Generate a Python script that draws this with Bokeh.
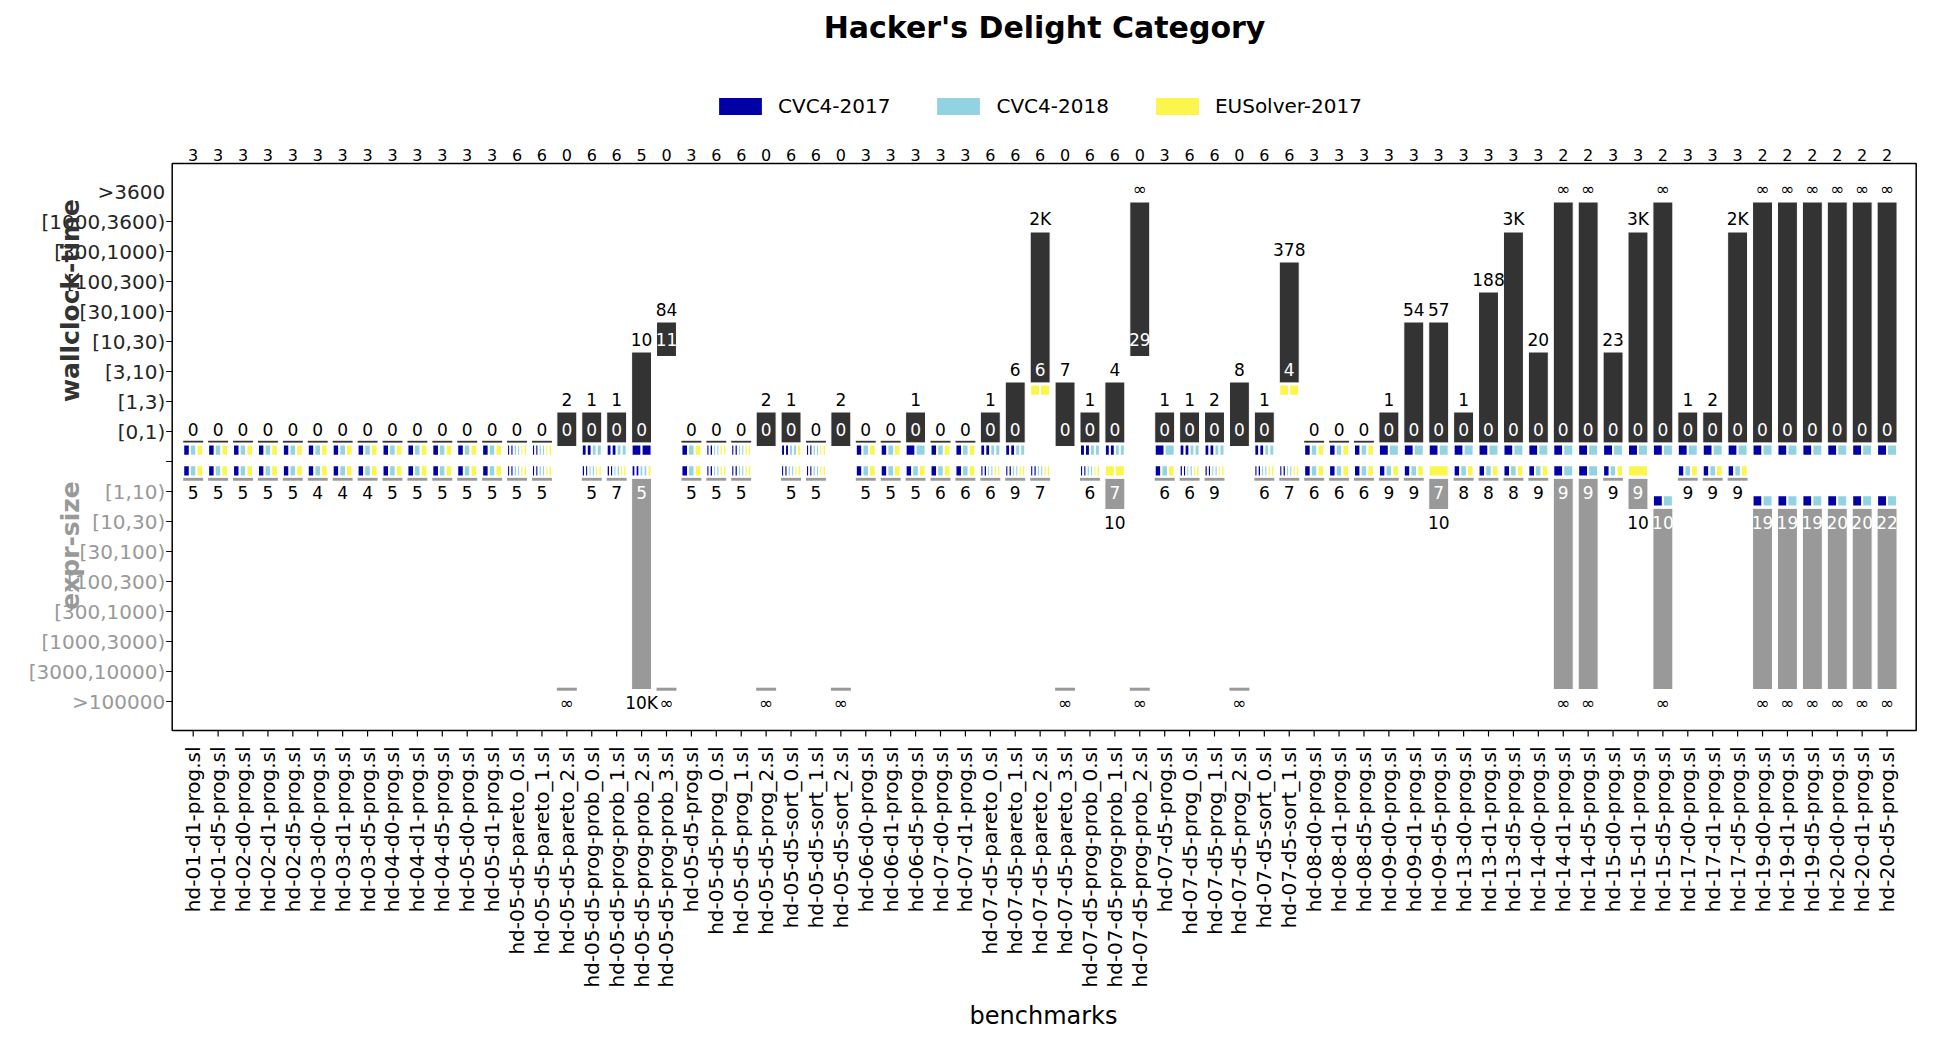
import math
from bokeh.plotting import figure
from bokeh.models import Range1d, ColumnDataSource, Legend, LegendItem
from bokeh.core.properties import value
from bokeh.embed import file_html
from bokeh.resources import INLINE

INF = float("inf")

benchmarks = [
    "hd-01-d1-prog.sl", "hd-01-d5-prog.sl", "hd-02-d0-prog.sl", "hd-02-d1-prog.sl",
    "hd-02-d5-prog.sl", "hd-03-d0-prog.sl", "hd-03-d1-prog.sl", "hd-03-d5-prog.sl",
    "hd-04-d0-prog.sl", "hd-04-d1-prog.sl", "hd-04-d5-prog.sl", "hd-05-d0-prog.sl",
    "hd-05-d1-prog.sl", "hd-05-d5-pareto_0.sl", "hd-05-d5-pareto_1.sl", "hd-05-d5-pareto_2.sl",
    "hd-05-d5-prog-prob_0.sl", "hd-05-d5-prog-prob_1.sl", "hd-05-d5-prog-prob_2.sl",
    "hd-05-d5-prog-prob_3.sl", "hd-05-d5-prog.sl", "hd-05-d5-prog_0.sl", "hd-05-d5-prog_1.sl",
    "hd-05-d5-prog_2.sl", "hd-05-d5-sort_0.sl", "hd-05-d5-sort_1.sl", "hd-05-d5-sort_2.sl",
    "hd-06-d0-prog.sl", "hd-06-d1-prog.sl", "hd-06-d5-prog.sl", "hd-07-d0-prog.sl",
    "hd-07-d1-prog.sl", "hd-07-d5-pareto_0.sl", "hd-07-d5-pareto_1.sl", "hd-07-d5-pareto_2.sl",
    "hd-07-d5-pareto_3.sl", "hd-07-d5-prog-prob_0.sl", "hd-07-d5-prog-prob_1.sl",
    "hd-07-d5-prog-prob_2.sl", "hd-07-d5-prog.sl", "hd-07-d5-prog_0.sl", "hd-07-d5-prog_1.sl",
    "hd-07-d5-prog_2.sl", "hd-07-d5-sort_0.sl", "hd-07-d5-sort_1.sl", "hd-08-d0-prog.sl",
    "hd-08-d1-prog.sl", "hd-08-d5-prog.sl", "hd-09-d0-prog.sl", "hd-09-d1-prog.sl",
    "hd-09-d5-prog.sl", "hd-13-d0-prog.sl", "hd-13-d1-prog.sl", "hd-13-d5-prog.sl",
    "hd-14-d0-prog.sl", "hd-14-d1-prog.sl", "hd-14-d5-prog.sl", "hd-15-d0-prog.sl",
    "hd-15-d1-prog.sl", "hd-15-d5-prog.sl", "hd-17-d0-prog.sl", "hd-17-d1-prog.sl",
    "hd-17-d5-prog.sl", "hd-19-d0-prog.sl", "hd-19-d1-prog.sl", "hd-19-d5-prog.sl",
    "hd-20-d0-prog.sl", "hd-20-d1-prog.sl", "hd-20-d5-prog.sl",
]

entries = [3] * 13 + [6, 6, 0, 6, 6, 5, 0, 3, 6, 6, 0, 6, 6, 0, 3, 3, 3, 3, 3, 6, 6, 6, 0,
                      6, 6, 0, 3, 6, 6, 0, 6, 6] + [3] * 10 + \
          [2, 2, 3, 3, 2, 3, 3, 3, 2, 2, 2, 2, 2, 2]

time_min = [0] * 19 + [11] + [0] * 14 + [6] + [0] * 3 + [29] + [0] * 5 + [4] + [0] * 24

time_max = [0] * 15 + [2, 1, 1, 10, 84, 0, 0, 0, 2, 1, 0, 2, 0, 0, 1, 0, 0, 1, 6, 2000, 7,
                       1, 4, INF, 1, 1, 2, 8, 1, 378, 0, 0, 0, 1, 54, 57, 1, 188, 3000, 20,
                       INF, INF, 23, 3000, INF, 1, 2, 2000, INF, INF, INF, INF, INF, INF]

size_min = [5, 5, 5, 5, 5, 4, 4, 4, 5, 5, 5, 5, 5, 5, 5, INF, 5, 7, 5, INF, 5, 5, 5, INF,
            5, 5, INF, 5, 5, 5, 6, 6, 6, 9, 7, INF, 6, 7, INF, 6, 6, 9, INF, 6, 7, 6, 6, 6,
            9, 9, 7, 8, 8, 8, 9, 9, 9, 9, 9, 10, 9, 9, 9, 19, 19, 19, 20, 20, 22]

size_max = [5, 5, 5, 5, 5, 4, 4, 4, 5, 5, 5, 5, 5, 5, 5, INF, 5, 7, 10000, INF, 5, 5, 5, INF,
            5, 5, INF, 5, 5, 5, 6, 6, 6, 9, 7, INF, 6, 10, INF, 6, 6, 9, INF, 6, 7, 6, 6, 6,
            9, 9, 10, 8, 8, 8, 9, INF, INF, 9, 10, INF, 9, 9, 9, INF, INF, INF, INF, INF, INF]

# solvers reaching the best wallclock-time / expr-size (b=CVC4-2017, c=CVC4-2018, y=EUSolver-2017)
time_best = ["bcy"] * 13 + ["bbccyy", "bbccyy", "", "bbcc", "bbcc", "bb", "", "bcy",
                            "bbccyy", "bbccyy", "", "bbccy", "bbccyy", "", "bcy", "bcy", "bc",
                            "bcy", "bcy", "bbcc", "bbcc", "yy", "", "bbcc", "bbcc", "", "bc",
                            "bbcc", "bbcc", "", "bbcc", "yy", "bcy", "bcy", "bcy"] + ["bc"] * 21

size_best = ["bcy"] * 13 + ["bbccyy", "bbccyy", "", "bbccyy", "bbccyy", "bbccy", "", "bcy",
                            "bbccyy", "bbccyy", "", "bbccyy", "bbccyy", "", "bcy", "bcy", "bcy",
                            "bcy", "bcy", "bbccyy", "bbccyy", "bbccyy", "", "bbccyy", "yy", "",
                            "bcy", "bbccyy", "bbccyy", "", "bbccyy", "bbccyy", "bcy", "bcy",
                            "bcy", "bcy", "bcy", "y", "bcy", "bcy", "bcy", "bcy", "bc", "bc",
                            "bcy", "y", "bc", "bcy", "bcy", "bcy", "bc", "bc", "bc", "bc", "bc",
                            "bc"]

solvers = ["CVC4-2017", "CVC4-2018", "EUSolver-2017"]
solver_colors = {"b": "#0000a4", "c": "#92d3e2", "y": "#fcf54c"}
solver_keys = ["b", "c", "y"]

time_labels = ["[0,1)", "[1,3)", "[3,10)", "[10,30)", "[30,100)", "[100,300)",
               "[300,1000)", "[1000,3600)", ">3600"]
time_edges = [1, 3, 10, 30, 100, 300, 1000, 3600]
size_labels = ["[1,10)", "[10,30)", "[30,100)", "[100,300)", "[300,1000)",
               "[1000,3000)", "[3000,10000)", ">100000"]
size_edges = [10, 30, 100, 300, 1000, 3000, 10000]

FONT = value("DejaVu Sans")
DARK = "#333333"
GRAY = "#999999"
TICKCOL = "#262626"

W, H = 1938, 1044
# pixel scale of one benchmark / one level, and pixel position of benchmark 0 / level 0
PXX, PXY = 24.91, 30.0
OX, OY = 192.7, 461.0


def xd(px):
    return (px - OX) / PXX


def yd(py):
    return (OY - py) / PXY


def tlev(v):
    return 1 + sum(1 for e in time_edges if v >= e)


def slev(v):
    return -(1 + sum(1 for e in size_edges if v >= e))


def fmt(v):
    if v == INF:
        return "\u221e"
    if v >= 1000:
        return "%dK" % round(v / 1000)
    return str(int(v))


n = len(benchmarks)
HW = 0.4

# plot-area box (in data units)
X0, X1 = xd(171.7), xd(1915.7)
Y0, Y1 = yd(730), yd(163)

p = figure(width=W, height=H, output_backend="svg", toolbar_location=None,
           x_range=Range1d(xd(0), xd(W)), y_range=Range1d(yd(H), yd(0)),
           x_axis_location=None, y_axis_location=None, title=None,
           min_border=0, min_border_left=0, min_border_right=0,
           min_border_top=0, min_border_bottom=0)
p.xgrid.visible = False
p.ygrid.visible = False
p.outline_line_color = None
p.background_fill_color = "white"
p.border_fill_color = "white"

# ---- build glyph data ----
bar = dict(left=[], right=[], top=[], bottom=[])
tline = dict(left=[], right=[], top=[], bottom=[])
gbar = dict(left=[], right=[], top=[], bottom=[])
sline = dict(left=[], right=[], top=[], bottom=[])
sq = {key: dict(left=[], right=[], top=[], bottom=[]) for key in solver_keys}
txt = dict(x=[], y=[], text=[], color=[])


def add_sq(key, l, r, t, b):
    d = sq[key]
    d["left"].append(l); d["right"].append(r); d["top"].append(t); d["bottom"].append(b)


for i in range(n):
    tl_min, tl_max = tlev(time_min[i]), tlev(time_max[i])
    if time_min[i] != time_max[i]:
        bar["left"].append(i - HW); bar["right"].append(i + HW)
        bar["top"].append(tl_max - 0.35)
        bar["bottom"].append(tl_min - (0.38 if time_best[i] else 0.5))
        txt["x"].append(i); txt["y"].append(tl_min + 0.07)
        txt["text"].append(fmt(time_min[i])); txt["color"].append("white")
    else:
        tline["left"].append(i - HW); tline["right"].append(i + HW)
        tline["top"].append(tl_max - 0.31); tline["bottom"].append(tl_max - 0.37)
    txt["x"].append(i); txt["y"].append(tl_max + 0.07)
    txt["text"].append(fmt(time_max[i])); txt["color"].append("black")
    k = len(time_best[i])
    for j, ch in enumerate(time_best[i]):
        add_sq(ch, i - HW + 2 * HW * j / k, i - HW + 2 * HW * (j + 1) / k,
               tl_min - 0.434, tl_min - 0.81)

    sl_min, sl_max = slev(size_min[i]), slev(size_max[i])
    if size_min[i] != size_max[i]:
        gbar["left"].append(i - HW); gbar["right"].append(i + HW)
        gbar["top"].append(sl_min + 0.44); gbar["bottom"].append(sl_max + 0.40)
        txt["x"].append(i); txt["y"].append(sl_min - 0.04)
        txt["text"].append(fmt(size_min[i])); txt["color"].append("white")
    else:
        sline["left"].append(i - HW); sline["right"].append(i + HW)
        sline["top"].append(sl_max + 0.46); sline["bottom"].append(sl_max + 0.36)
    txt["x"].append(i); txt["y"].append(sl_max - 0.04)
    txt["text"].append(fmt(size_max[i])); txt["color"].append("black")
    k = len(size_best[i])
    for j, ch in enumerate(size_best[i]):
        add_sq(ch, i - HW + 2 * HW * j / k, i - HW + 2 * HW * (j + 1) / k,
               sl_min + 0.877, sl_min + 0.50)

p.quad(source=ColumnDataSource(bar), left="left", right="right", top="top", bottom="bottom",
       fill_color=DARK, line_color="white", line_width=1)
p.quad(source=ColumnDataSource(gbar), left="left", right="right", top="top", bottom="bottom",
       fill_color=GRAY, line_color="white", line_width=1)
p.quad(source=ColumnDataSource(tline), left="left", right="right", top="top", bottom="bottom",
       fill_color=DARK, line_color=None)
p.quad(source=ColumnDataSource(sline), left="left", right="right", top="top", bottom="bottom",
       fill_color=GRAY, line_color=None)
sq_renderers = {}
for key in solver_keys:
    sq_renderers[key] = p.quad(source=ColumnDataSource(sq[key]), left="left", right="right",
                               top="top", bottom="bottom", fill_color=solver_colors[key],
                               line_color="white", line_width=2)
p.text(source=ColumnDataSource(txt), x="x", y="y", text="text", text_color="color",
       text_align="center", text_baseline="middle", text_font=FONT, text_font_size="17px")

# ---- axes (box, ticks, tick labels) ----
p.quad(left=[X0], right=[X1], top=[Y1], bottom=[Y0], fill_color=None,
       line_color="black", line_width=1.5)

ytick_pos = [8, 7, 6, 5, 4, 3, 2, 1, 0, -1, -2, -3, -4, -5, -6, -7, -8]
p.segment(x0=[X0 - 6 / PXX] * len(ytick_pos), x1=[X0] * len(ytick_pos),
          y0=ytick_pos, y1=ytick_pos, line_color="black", line_width=1.2)
p.segment(x0=list(range(n)), x1=list(range(n)), y0=[Y0] * n, y1=[Y0 - 6 / PXY] * n,
          line_color="black", line_width=1.2)

ylab_y = list(range(1, 10)) + list(range(-1, -9, -1))
ylab_t = time_labels + size_labels
ylab_c = [TICKCOL] * len(time_labels) + [GRAY] * len(size_labels)
p.text(x=[X0 - 7 / PXX] * len(ylab_y), y=ylab_y, text=ylab_t, text_color=ylab_c,
       text_align="right", text_baseline="middle", text_font=FONT, text_font_size="20px")

# benchmark names (rotated, reading upward)
p.text(x=list(range(n)), y=[Y0 - 16 / PXY] * n, text=benchmarks, angle=math.pi / 2,
       text_align="right", text_baseline="middle", text_font=FONT, text_font_size="20px",
       text_color="black")

# number of entries per benchmark along the top
p.text(x=list(range(n)), y=[Y1 + 9 / PXY] * n, text=[str(c) for c in entries],
       text_align="center", text_baseline="middle", text_font=FONT, text_font_size="16px",
       text_color="black")

# axis titles and plot title
p.text(x=[xd(70)], y=[yd(300)], text=["wallclock-time"], angle=math.pi / 2,
       text_align="center", text_baseline="middle", text_font=FONT,
       text_font_size="25px", text_font_style="bold", text_color="#333333")
p.text(x=[xd(70)], y=[yd(545)], text=["expr-size"], angle=math.pi / 2,
       text_align="center", text_baseline="middle", text_font=FONT,
       text_font_size="25px", text_font_style="bold", text_color=GRAY)
p.text(x=[xd(1043)], y=[yd(1015)], text=["benchmarks"], text_align="center",
       text_baseline="middle", text_font=FONT, text_font_size="24px", text_color="black")
p.text(x=[xd(1044)], y=[yd(27)], text=["Hacker's Delight Category"], text_align="center",
       text_baseline="middle", text_font=FONT, text_font_size="30px",
       text_font_style="bold", text_color="black")

# legend (uses the solver square renderers)
items = [LegendItem(label=name, renderers=[sq_renderers[key]])
         for key, name in zip(solver_keys, solvers)]
legend = Legend(items=items, orientation="horizontal", location=(712, H - 118),
                glyph_width=56, glyph_height=24, label_standoff=10, spacing=40,
                padding=0, margin=0, border_line_color=None, background_fill_alpha=0,
                label_text_font="DejaVu Sans", label_text_font_size="20px",
                label_text_color="black")
p.add_layout(legend)

open("out.html", "w").write(file_html(p, INLINE))
